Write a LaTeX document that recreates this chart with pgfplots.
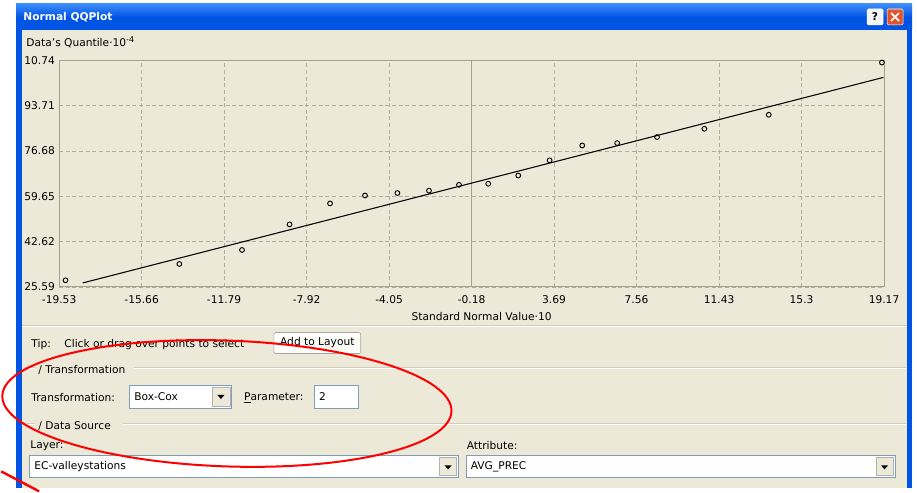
\documentclass[border=0pt]{standalone}
\usepackage{pgfplots}
\pgfplotsset{compat=1.18}
\usepackage{fontspec}
\setmainfont{DejaVu Sans}

\definecolor{xpbeige}{RGB}{236,233,216}
\definecolor{xpblue}{RGB}{0,84,227}
\definecolor{xpbluelight}{RGB}{60,140,250}
\definecolor{framegray}{RGB}{165,161,143}
\definecolor{gridgray}{RGB}{178,174,158}
\definecolor{etchdark}{RGB}{208,205,190}
\definecolor{boxborder}{RGB}{127,157,185}
\definecolor{closered}{RGB}{226,84,44}

\tikzset{
  gui/.style={font=\fontsize{8}{9.6}\selectfont, inner sep=0pt, text=black},
  combo/.style={fill=white, draw=boxborder, line width=0.6pt},
  dropbtn/.style={fill=xpbeige, draw=gray!60, line width=0.5pt}
}

\begin{document}
\begin{tikzpicture}
\begin{scope}[x=0.75pt, y=-0.75pt]
  \useasboundingbox (0,0) rectangle (917,489);
  \clip (0,0) rectangle (917,489);
  \fill[white] (0,0) rectangle (917,489);
  % window
  \shade[top color=xpbluelight, bottom color=xpblue, middle color=xpblue] (15,4) rectangle (912,30);
  \fill[xpblue] (15,30) rectangle (21,489);
  \fill[xpblue] (907,30) rectangle (912,489);
  \fill[xpbeige] (21,30) rectangle (907,489);
  \node[gui, anchor=west, text=white, font=\fontsize{8}{9.6}\selectfont\bfseries] at (22,17) {Normal QQPlot};
  % title buttons
  \fill[white!92!gray, draw=white, rounded corners=1pt] (867,9) rectangle (883,25);
  \node[font=\fontsize{8}{9}\selectfont\bfseries] at (875,17) {?};
  \fill[closered, draw=white, rounded corners=1pt] (887,9) rectangle (903,25);
  \draw[white, line width=1.3pt] (891,13) -- (899,21) (891,21) -- (899,13);

  % axis labels
  \node[gui, anchor=west] at (25,42) {Data's Quantile·10\textsuperscript{-4}};
  \node[gui] at (481,317) {Standard Normal Value·10};
  \coordinate (plotSW) at (58,287.3);

  % separator under the plot
  \draw[etchdark, line width=0.75pt] (21,326) -- (907,326);
  \draw[white, line width=0.75pt] (21,327) -- (907,327);

  % tip row
  \node[gui, anchor=west] at (30,345) {Tip:};
  \node[gui, anchor=west] at (63,345) {Click or drag over points to select};
  \draw[fill=white!85!xpbeige, draw=gray!70, rounded corners=1.5pt, line width=0.5pt] (273,333) rectangle (360,354);
  \node[gui] at (316.5,343.5) {Add to Layout};

  % transformation group
  \draw[etchdark, line width=0.75pt] (24,368) -- (34,368) (133,368) -- (906,368);
  \draw[white, line width=0.75pt] (24,369) -- (34,369) (133,369) -- (906,369);
  \node[gui, anchor=west] at (37,370) {/ Transformation};
  \node[gui, anchor=west] at (30,398) {Transformation:};
  \draw[combo] (128,386) rectangle (231,409);
  \node[gui, anchor=west] at (133,397.5) {Box-Cox};
  \draw[dropbtn] (211,388) rectangle (229,407);
  \fill[black] (216.5,395.5) -- (223.5,395.5) -- (220,399.5) -- cycle;
  \node[gui, anchor=west] at (243,398) {\underline{P}arameter:};
  \draw[combo] (314,386) rectangle (358,409);
  \node[gui, anchor=west] at (318,397.5) {2};

  % data source group
  \draw[etchdark, line width=0.75pt] (24,424) -- (34,424) (122,424) -- (906,424);
  \draw[white, line width=0.75pt] (24,425) -- (34,425) (122,425) -- (906,425);
  \node[gui, anchor=west] at (37,427) {/ Data Source};
  \node[gui, anchor=west] at (29,446) {Layer:};
  \node[gui, anchor=west] at (466,446) {Attribute:};
  \draw[combo] (28,456) rectangle (458,478);
  \node[gui, anchor=west] at (33,467) {EC-valleystations};
  \draw[dropbtn] (439,458) rectangle (456,476);
  \fill[black] (444,466) -- (451,466) -- (447.5,470) -- cycle;
  \draw[combo] (466,456) rectangle (895,478);
  \node[gui, anchor=west] at (470,467) {AVG\_PREC};
  \draw[dropbtn] (876,458) rectangle (893,476);
  \fill[black] (881,466) -- (888,466) -- (884.5,470) -- cycle;
\end{scope}

\begin{axis}[
  at={(plotSW)}, anchor=south west,
  scale only axis,
  width=619.5pt, height=170pt,
  xmin=-19.53, xmax=19.17,
  ymin=25.59, ymax=110.74,
  xtick={-19.53,-15.66,-11.79,-7.92,-4.05,-0.18,3.69,7.56,11.43,15.3,19.17},
  xticklabels={-19.53,-15.66,-11.79,-7.92,-4.05,-0.18,3.69,7.56,11.43,15.3,19.17},
  ytick={25.59,42.62,59.65,76.68,93.71,110.74},
  yticklabels={25.59,42.62,59.65,76.68,93.71,10.74},
  major tick length=0pt,
  tick label style={font=\fontsize{8}{9.6}\selectfont, inner sep=0pt},
  xticklabel style={yshift=-6pt},
  yticklabel style={xshift=-3pt},
  axis line style={framegray, line width=0.75pt},
  grid=major,
  major grid style={gridgray, line width=0.6pt, dash pattern=on 3pt off 2pt},
  clip=false,
]
  \draw[framegray, line width=0.75pt] (axis cs:-0.18,25.59) -- (axis cs:-0.18,110.74);

  % fitted reference line
  \addplot[black, line width=0.8pt, mark=none] coordinates {
    (-18.42,27.1) (19.14,104.4)
  };

  % data quantiles
  \addplot[only marks, mark=o, mark size=1.8pt, black, line width=0.7pt] coordinates {
    (-19.23,28.07)
    (-13.89,34.23)
    (-10.95,39.5)
    (-8.72,49.1)
    (-6.82,57.0)
    (-5.18,60.0)
    (-3.66,60.9)
    (-2.18,61.8)
    (-0.77,64.0)
    (0.60,64.4)
    (2.01,67.5)
    (3.48,73.2)
    (5.01,78.8)
    (6.65,79.7)
    (8.52,81.96)
    (10.74,85.08)
    (13.76,90.34)
    (19.07,110.0)
  };
\end{axis}

\begin{scope}[x=0.75pt, y=-0.75pt]
  \draw[red, line width=1.5pt, rotate around={-2:(226,404)}] (226,404) ellipse [x radius=225, y radius=63];
  \draw[red, line width=1.8pt] (0,472) -- (38,492);
\end{scope}
\end{tikzpicture}
\end{document}
